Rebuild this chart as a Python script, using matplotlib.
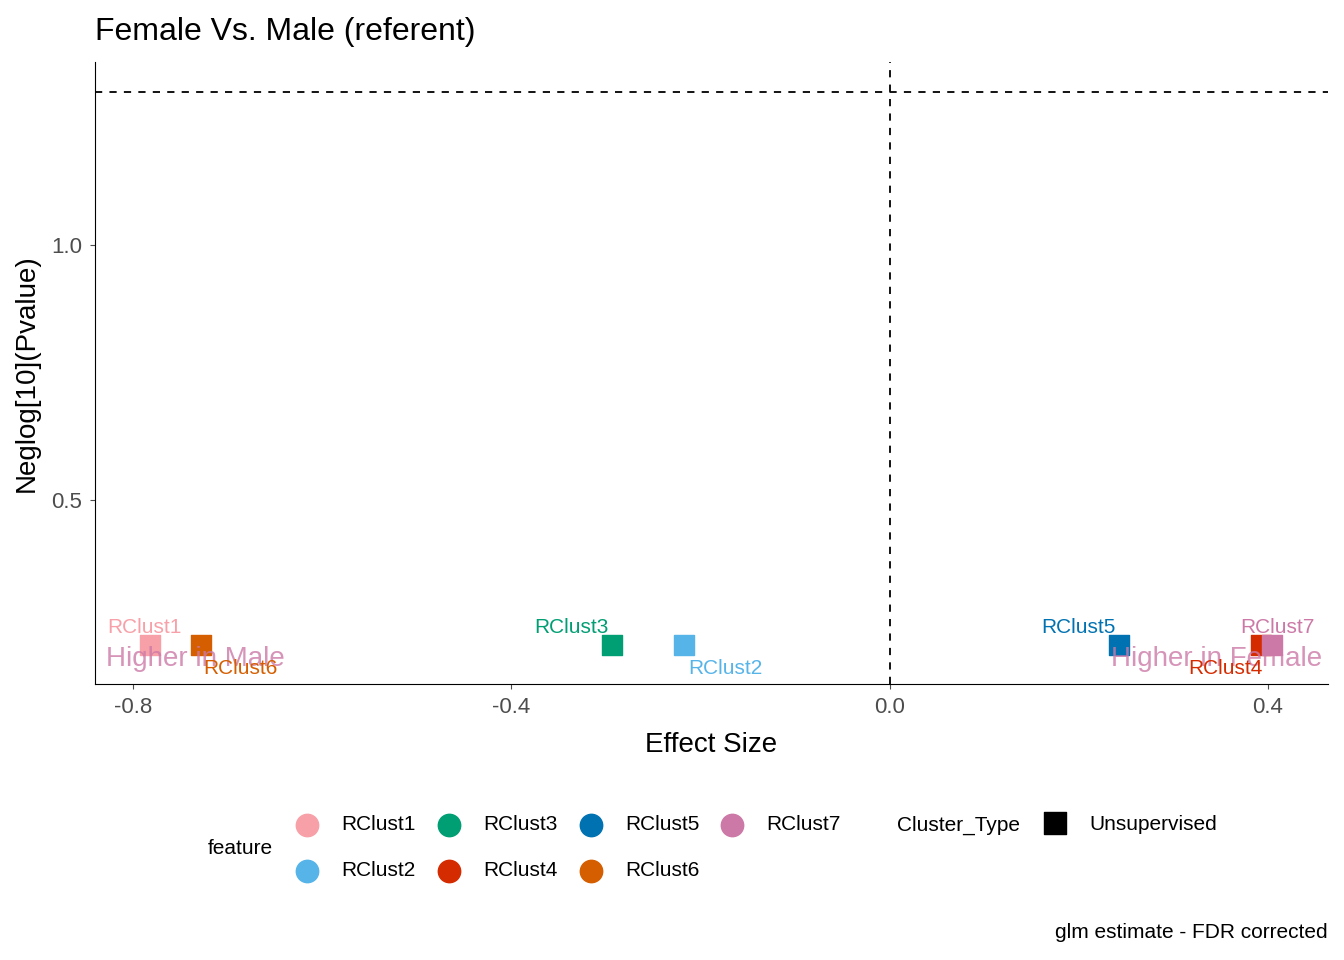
import matplotlib.pyplot as plt

plt.rcParams['font.family'] = ['Liberation Sans', 'DejaVu Sans']

features = ["RClust1", "RClust2", "RClust3", "RClust4", "RClust5", "RClust6", "RClust7"]
effect = [-0.782, -0.217, -0.293, 0.393, 0.243, -0.728, 0.404]
neglog = [0.216, 0.216, 0.216, 0.216, 0.216, 0.216, 0.216]
colors = {"RClust1": "#F8A0A8", "RClust2": "#56B4E9", "RClust3": "#009E73",
          "RClust4": "#D52B00", "RClust5": "#0072B2", "RClust6": "#D55E00",
          "RClust7": "#CC79A7"}
# label placement (repelled positions)
label_xy = {"RClust1": (-0.788, 0.25), "RClust2": (-0.174, 0.17),
            "RClust3": (-0.336, 0.25), "RClust4": (0.355, 0.17),
            "RClust5": (0.200, 0.25), "RClust6": (-0.686, 0.17),
            "RClust7": (0.410, 0.25)}

fig = plt.figure(figsize=(13.44, 9.6), dpi=100)
ax = fig.add_axes([0.0707, 0.2875, 0.9173, 0.6475])

for f, x, y in zip(features, effect, neglog):
    ax.scatter(x, y, marker="s", s=200, color=colors[f], zorder=3)
for f in features:
    lx, ly = label_xy[f]
    ax.text(lx, ly, f, color=colors[f], fontsize=15, ha="center", va="center", zorder=4)

ax.text(-0.734, 0.188, "Higher in Male", color="#CC79A7", alpha=0.8,
        fontsize=20, ha="center", va="center")
ax.text(0.346, 0.188, "Higher in Female", color="#CC79A7", alpha=0.8,
        fontsize=20, ha="center", va="center")

ax.axhline(1.301, color="black", linestyle=(0, (4, 4)), linewidth=1.3)
ax.axvline(0.0, color="black", linestyle=(0, (4, 4)), linewidth=1.3)

ax.set_xlim(-0.840, 0.4634)
ax.set_ylim(0.139, 1.359)
ax.set_xticks([-0.8, -0.4, 0.0, 0.4])
ax.set_xticklabels(["-0.8", "-0.4", "0.0", "0.4"])
ax.set_yticks([0.5, 1.0])
ax.tick_params(labelsize=16, colors="#4D4D4D", labelcolor="#4D4D4D", pad=6)
for s in ["top", "right"]:
    ax.spines[s].set_visible(False)
ax.set_xlabel("Effect Size", fontsize=20, labelpad=10)
ax.set_ylabel("Neglog[10](Pvalue)", fontsize=20, labelpad=8)
ax.set_title("Female Vs. Male (referent)", fontsize=23, loc="left", x=0.0, pad=16)

# legend drawn on an overlay axes in pixel coordinates
lg = fig.add_axes([0, 0, 1, 1], facecolor="none")
lg.set_xlim(0, 1344)
lg.set_ylim(960, 0)
lg.axis("off")
lg.text(208, 849, "feature", fontsize=15, va="center")
cols = [307, 449, 591, 732]
rows = [825, 871]
for i, f in enumerate(features):
    cx, cy = cols[i // 2], rows[i % 2]
    lg.scatter(cx, cy, s=260, color=colors[f])
    lg.text(cx + 34, cy, f, fontsize=15, va="center")
lg.text(897, 825, "Cluster_Type", fontsize=15, va="center")
lg.scatter(1055, 823, s=260, marker="s", color="black")
lg.text(1089, 825, "Unsupervised", fontsize=15, va="center")
lg.text(1328, 933, "glm estimate - FDR corrected", fontsize=15, ha="right", va="center")

fig.savefig("out.png", dpi=100)
